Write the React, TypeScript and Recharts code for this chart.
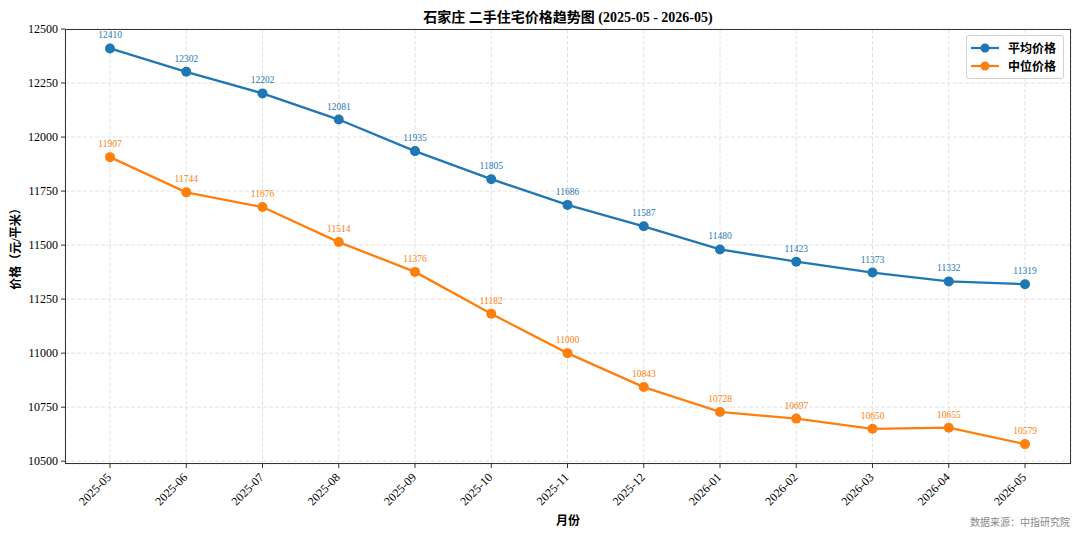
import { CartesianGrid, LabelList, Line, LineChart, XAxis, YAxis } from 'recharts'

const months = [
  '2025-05', '2025-06', '2025-07', '2025-08', '2025-09', '2025-10', '2025-11',
  '2025-12', '2026-01', '2026-02', '2026-03', '2026-04', '2026-05',
]
const avgPrice = [12410, 12302, 12202, 12081, 11935, 11805, 11686, 11587, 11480, 11423, 11373, 11332, 11319]
const medianPrice = [11907, 11744, 11676, 11514, 11376, 11182, 11000, 10843, 10728, 10697, 10650, 10655, 10579]
const yTicks = [10500, 10750, 11000, 11250, 11500, 11750, 12000, 12250, 12500]

const series = [
  { key: 'avg', name: '平均价格', color: '#1f77b4' },
  { key: 'median', name: '中位价格', color: '#ff7f0e' },
]

const data = months.map((m, i) => ({ month: m, avg: avgPrice[i], median: medianPrice[i] }))

const FONT = "'Liberation Serif', 'Noto Sans CJK SC', serif"
const W = 1080
const H = 535
const PLOT = { left: 65, top: 29, right: 1071, bottom: 464 }

function XTick({ x, y, payload }: any) {
  return (
    <text
      x={0}
      y={0}
      transform={`translate(${x + 2},${y + 8}) rotate(-45)`}
      textAnchor="end"
      fontSize={12}
      fontFamily={FONT}
      fill="#000"
    >
      {payload.value}
    </text>
  )
}

function LegendBox() {
  return (
    <div
      style={{
        position: 'absolute',
        top: 35,
        right: 16,
        border: '1px solid #d0d0d0',
        borderRadius: 3,
        background: 'rgba(255,255,255,0.8)',
        padding: '3px 7px 3px 4px',
        fontFamily: FONT,
        fontWeight: 'bold',
        fontSize: 12,
      }}
    >
      {series.map((s) => (
        <div key={s.key} style={{ display: 'flex', alignItems: 'center', height: 18 }}>
          <svg width={28} height={12} style={{ marginRight: 9 }}>
            <line x1={0} y1={6} x2={28} y2={6} stroke={s.color} strokeWidth={2.2} />
            <circle cx={14} cy={6} r={4.5} fill={s.color} />
          </svg>
          <span>{s.name}</span>
        </div>
      ))}
    </div>
  )
}

export default function App() {
  return (
    <div style={{ position: 'absolute', left: 0, top: 0, width: W, height: H, background: '#fff', fontFamily: FONT }}>
      <LineChart
        width={W}
        height={H}
        data={data}
        margin={{ top: PLOT.top, right: W - PLOT.right, left: 0, bottom: 0 }}
      >
        <CartesianGrid stroke="#e2e2e2" strokeDasharray="4 2" />
        <XAxis
          dataKey="month"
          type="category"
          padding={{ left: 45, right: 46 }}
          height={H - PLOT.bottom}
          axisLine={false}
          tickLine={{ stroke: '#333' }}
          tickSize={4}
          interval={0}
          tick={<XTick />}
        />
        <YAxis
          type="number"
          domain={[10487, 12500]}
          ticks={yTicks}
          allowDataOverflow
          width={PLOT.left}
          axisLine={false}
          tickLine={{ stroke: '#333' }}
          tickSize={4}
          tickMargin={3}
          tick={{ fontSize: 12, fontFamily: FONT, fill: '#000' }}
        />
        {series.map((s) => (
          <Line
            key={s.key}
            dataKey={s.key}
            name={s.name}
            type="linear"
            stroke={s.color}
            strokeWidth={2.3}
            dot={{ r: 5, fill: s.color, stroke: s.color, strokeWidth: 0 }}
            activeDot={false}
            isAnimationActive={false}
          >
            <LabelList dataKey={s.key} position="top" offset={10} fontSize={9.5} fontFamily={FONT} fill={s.color} />
          </Line>
        ))}
      </LineChart>
      <LegendBox />
      <div
        style={{
          position: 'absolute',
          left: PLOT.left,
          top: PLOT.top,
          width: PLOT.right - PLOT.left,
          height: PLOT.bottom - PLOT.top,
          border: '1px solid #333',
          boxSizing: 'border-box',
          pointerEvents: 'none',
        }}
      />
      <div
        style={{
          position: 'absolute',
          left: PLOT.left,
          width: PLOT.right - PLOT.left,
          top: 6,
          textAlign: 'center',
          fontSize: 14,
          fontWeight: 'bold',
        }}
      >
        石家庄 二手住宅价格趋势图 (2025-05 - 2026-05)
      </div>
      <div
        style={{
          position: 'absolute',
          left: PLOT.left,
          width: PLOT.right - PLOT.left,
          top: 511,
          textAlign: 'center',
          fontSize: 12,
          fontWeight: 'bold',
        }}
      >
        月份
      </div>
      <div
        style={{
          position: 'absolute',
          left: 15,
          top: 246,
          transform: 'translate(-50%, -50%) rotate(-90deg)',
          whiteSpace: 'nowrap',
          fontSize: 12,
          fontWeight: 'bold',
        }}
      >
        价格（元/平米）
      </div>
      <div
        style={{
          position: 'absolute',
          right: 10,
          top: 514,
          fontSize: 10,
          color: '#888',
        }}
      >
        数据来源：中指研究院
      </div>
    </div>
  )
}
